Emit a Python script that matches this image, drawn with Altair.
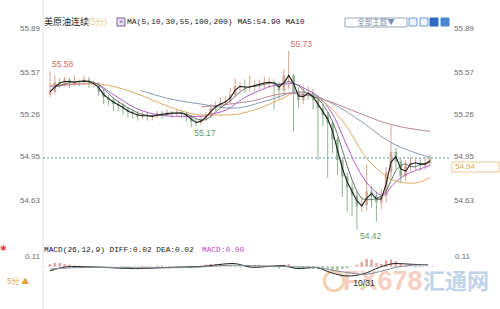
import altair as alt
import pandas as pd

# ---------------- data ----------------
closes = [55.43, 55.50, 55.49, 55.52, 55.49, 55.51, 55.50, 55.52, 55.49, 55.49,
          55.43, 55.39, 55.37, 55.34, 55.33, 55.30, 55.28, 55.27, 55.25, 55.26,
          55.25, 55.25, 55.27, 55.26, 55.28, 55.27, 55.28, 55.27, 55.25, 55.21,
          55.20, 55.23, 55.26, 55.31, 55.33, 55.35, 55.36, 55.41, 55.47, 55.47,
          55.46, 55.47, 55.48, 55.49, 55.50, 55.50, 55.49, 55.44, 55.55, 55.55,
          55.43, 55.37, 55.42, 55.42, 55.37, 55.31, 55.26, 55.20, 55.08, 54.93,
          54.81, 54.73, 54.67, 54.59, 54.60, 54.70, 54.67, 54.62, 54.67, 54.84,
          54.99, 54.92, 54.81, 54.89, 54.91, 54.91, 54.89, 54.91, 54.94]
highs = [55.58, 55.55, 55.53, 55.54, 55.53, 55.55, 55.52, 55.55, 55.54, 55.51,
         55.50, 55.45, 55.41, 55.39, 55.37, 55.35, 55.32, 55.30, 55.29, 55.28,
         55.28, 55.27, 55.29, 55.29, 55.30, 55.29, 55.30, 55.29, 55.28, 55.26,
         55.23, 55.25, 55.28, 55.34, 55.36, 55.39, 55.40, 55.46, 55.53, 55.50,
         55.52, 55.55, 55.51, 55.52, 55.54, 55.53, 55.52, 55.50, 55.60, 55.73,
         55.56, 55.46, 55.47, 55.47, 55.45, 55.40, 55.34, 55.28, 55.22, 55.10,
         54.95, 54.84, 54.77, 54.70, 54.66, 54.90, 54.74, 54.70, 54.72, 54.88,
         55.18, 55.02, 54.94, 54.93, 54.95, 54.95, 54.94, 54.95, 54.97]
lows = [55.39, 55.41, 55.46, 55.47, 55.46, 55.47, 55.47, 55.48, 55.46, 55.46,
        55.40, 55.34, 55.33, 55.29, 55.29, 55.26, 55.24, 55.23, 55.22, 55.23,
        55.22, 55.22, 55.24, 55.23, 55.25, 55.24, 55.25, 55.24, 55.21, 55.17,
        55.18, 55.19, 55.22, 55.24, 55.29, 55.31, 55.33, 55.34, 55.39, 55.43,
        55.42, 55.43, 55.44, 55.45, 55.46, 55.46, 55.30, 55.38, 55.41, 55.45,
        55.14, 55.31, 55.34, 55.37, 55.30, 54.93, 55.18, 54.80, 54.98, 54.82,
        54.66, 54.55, 54.52, 54.42, 54.55, 54.56, 54.58, 54.48, 54.57, 54.62,
        54.80, 54.86, 54.76, 54.78, 54.85, 54.86, 54.85, 54.86, 54.89]
first_open = 55.41

ma30_i = [0, 9, 13, 17.6, 21, 26, 31, 33.6, 36.4, 39.6, 43, 46.4, 49.6, 53, 55.6, 58.4,
          61, 63.6, 66.4, 68.4, 70.4, 72.4, 75.6, 78]
ma30_v = [55.47, 55.49, 55.41, 55.31, 55.27, 55.25, 55.25, 55.27, 55.30, 55.38, 55.44,
          55.48, 55.49, 55.44, 55.38, 55.24, 55.03, 54.84, 54.71, 54.67, 54.75, 54.81,
          54.86, 54.89]
ma55_i = [0, 9, 15, 19, 23, 27, 31, 36.4, 43, 47.6, 51, 55.6, 61, 64.4, 67, 69, 71.6, 74.4, 78]
ma55_v = [55.48, 55.49, 55.45, 55.40, 55.34, 55.29, 55.26, 55.26, 55.31, 55.38, 55.43,
          55.37, 55.17, 54.97, 54.87, 54.81, 54.77, 54.76, 54.80]
ma100_i = [18.6, 24.4, 31, 37.6, 45, 51, 57.6, 64.4, 69, 78]
ma100_v = [55.44, 55.38, 55.34, 55.31, 55.37, 55.43, 55.35, 55.20, 55.08, 54.95]
ma200_i = [31, 41, 49, 55.6, 63, 69, 78]
ma200_v = [55.32, 55.36, 55.42, 55.38, 55.28, 55.20, 55.14]

macd_i = [0, 4.4, 11, 17.6, 24.4, 31, 37.6, 41.6, 47.6, 51, 54.4, 57.6, 61, 64.4, 67.6, 71, 74.4, 77.6]
diff_v = [-0.05, 0.0, -0.01, -0.025, -0.01, 0.0, 0.035, -0.01, 0.01, -0.025, -0.01, -0.07,
          -0.11, -0.085, -0.01, 0.035, 0.025, 0.02]
dea_v = [-0.03, -0.015, -0.01, -0.015, -0.015, -0.005, 0.015, 0.01, 0.0, -0.005, -0.01,
         -0.04, -0.07, -0.09, -0.06, -0.01, 0.015, 0.02]
hist_v = [0.03, 0.04, 0.04, 0.03, 0.02, 0.01, 0.01, 0.0, -0.01, -0.01,
          -0.01, -0.01, -0.01, 0.0, 0.0, -0.01, -0.01, 0.0, 0.0, 0.01,
          0.01, 0.0, 0.01, 0.01, 0.0, 0.0, -0.01, -0.01, -0.01, -0.02,
          -0.01, 0.01, 0.02, 0.03, 0.03, 0.03, 0.02, 0.01, -0.01, -0.01,
          0.0, 0.01, 0.02, 0.02, 0.01, 0.0, -0.01, -0.02, 0.02, 0.03,
          -0.02, -0.03, -0.02, -0.02, -0.03, -0.03, -0.02, -0.03, -0.04, -0.04,
          -0.03, -0.02, 0.0, 0.02, 0.05, 0.09, 0.08, 0.04, 0.03, 0.07,
          0.08, 0.06, 0.03, 0.01, 0.0, -0.01, -0.01, 0.0, 0.0]

price_ticks = [55.89, 55.57, 55.26, 54.95, 54.63]
macd_ticks = [0.11]
last_level = 54.945
extremes_i = [0, 49, 29, 63]
extremes_p = [55.58, 55.73, 55.17, 54.42]
extremes_kind = ["hi", "hi", "lo", "lo"]

# ---------------- frames ----------------
n = len(closes)
opens = [first_open] + closes[:-1]
candles = pd.DataFrame({"i": list(range(n)), "open": opens, "close": closes,
                        "high": highs, "low": lows})
ma_rows = []
for name, xs, vs in [("MA30", ma30_i, ma30_v), ("MA55", ma55_i, ma55_v),
                     ("MA100", ma100_i, ma100_v), ("MA200", ma200_i, ma200_v)]:
    for a, b in zip(xs, vs):
        ma_rows.append({"i": a, "v": b, "ma": name})
ma_df = pd.DataFrame(ma_rows)
macd_df = pd.DataFrame({"i": macd_i * 2, "v": diff_v + dea_v,
                        "s": ["DIFF"] * len(macd_i) + ["DEA"] * len(macd_i)})
hist_df = pd.DataFrame({"i": list(range(n)), "h": hist_v})
ext_df = pd.DataFrame({"i": extremes_i, "p": extremes_p, "k": extremes_kind,
                       "t": [f"{v:.2f}" for v in extremes_p]})
ticks_df = pd.DataFrame({"v": price_ticks, "t": [f"{v:.2f}" for v in price_ticks]})
mticks_df = pd.DataFrame({"v": macd_ticks, "t": [f"{v:.2f}" for v in macd_ticks]})

XS = alt.Scale(domain=[0, 78], range=[45, 435], zero=False, nice=False)
PY = alt.Scale(domain=[54.63, 55.89], range=[201, 29], zero=False, nice=False)
MY = alt.Scale(domain=[-0.11, 0.11], range=[276, 257], zero=False, nice=False)

GRAY = "#6e6e6e"
UP = "#d9a590"
DOWN = "#93b394"


def txt(t, x, y, size=8.5, color="#222", font="Liberation Sans", align="left",
        weight="normal", baseline="middle", opacity=1.0):
    return alt.Chart(pd.DataFrame({"t": [t]})).mark_text(
        fontSize=size, color=color, font=font, align=align, fontWeight=weight,
        baseline=baseline, opacity=opacity
    ).encode(x=alt.value(x), y=alt.value(y), text="t:N")


def box(x1, x2, y1, y2, fill, stroke, sw=1.0):
    return alt.Chart(pd.DataFrame({"a": [0]})).mark_rect(
        fill=fill, stroke=stroke, strokeWidth=sw
    ).encode(x=alt.value(x1), x2=alt.value(x2), y=alt.value(y1), y2=alt.value(y2))


layers = []

# watermark
layers.append(alt.Chart(pd.DataFrame({"a": [0]})).mark_point(
    shape="circle", filled=False, stroke="#f3c9a0", strokeWidth=3, size=380, opacity=0.8
).encode(x=alt.value(334), y=alt.value(281)))
layers.append(txt("FX678", 343, 282, size=27, color="#f4cbbd", weight="bold", opacity=0.9))
layers.append(txt("汇通网", 423, 282, size=22, color="#bcd0ea",
                  font="Noto Sans CJK SC", weight="bold", opacity=0.9))

# left border
layers.append(alt.Chart(pd.DataFrame({"a": [0]})).mark_rule(color="#e4e4e4", strokeWidth=1).encode(
    x=alt.value(43), y=alt.value(0), y2=alt.value(309)))

# last price dashed line
layers.append(alt.Chart(pd.DataFrame({"v": [last_level]})).mark_rule(
    color="#4f9ea6", strokeWidth=1, strokeDash=[2, 2]
).encode(y=alt.Y("v:Q", scale=PY, axis=None), x=alt.value(43), x2=alt.value(450)))

# candles
cond = alt.condition("datum.close >= datum.open", alt.value(UP), alt.value(DOWN))
base = alt.Chart(candles).encode(x=alt.X("i:Q", scale=XS, axis=None), color=cond)
layers.append(base.mark_rule(strokeWidth=1).encode(
    y=alt.Y("low:Q", scale=PY, axis=None), y2="high:Q"))
layers.append(base.mark_bar(size=2.6).encode(
    y=alt.Y("open:Q", scale=PY, axis=None), y2="close:Q"))

# moving averages
layers.append(alt.Chart(ma_df).mark_line(strokeWidth=1, interpolate="monotone").encode(
    x=alt.X("i:Q", scale=XS, axis=None),
    y=alt.Y("v:Q", scale=PY, axis=None),
    color=alt.Color("ma:N", legend=None, scale=alt.Scale(
        domain=["MA30", "MA55", "MA100", "MA200"],
        range=["#b35ccc", "#e2aa66", "#8c9db0", "#b98a93"]))))
layers.append(alt.Chart(candles).transform_window(
    m10="mean(close)", frame=[-3, 0], sort=[alt.SortField("i")]
).mark_line(color="#596b62", strokeWidth=0.9).encode(
    x=alt.X("i:Q", scale=XS, axis=None), y=alt.Y("m10:Q", scale=PY, axis=None)))
layers.append(alt.Chart(candles).transform_window(
    m5="mean(close)", frame=[-1, 0], sort=[alt.SortField("i")]
).mark_line(color="#1e1e1e", strokeWidth=1.1).encode(
    x=alt.X("i:Q", scale=XS, axis=None), y=alt.Y("m5:Q", scale=PY, axis=None)))

# extreme labels
layers.append(alt.Chart(ext_df).transform_filter("datum.k == 'hi'").mark_text(
    fontSize=8.5, font="Liberation Sans", color="#d4706a", align="left", baseline="bottom", dx=2, dy=-2
).encode(x=alt.X("i:Q", scale=XS, axis=None), y=alt.Y("p:Q", scale=PY, axis=None), text="t:N"))
layers.append(alt.Chart(ext_df).transform_filter("datum.k == 'lo'").mark_text(
    fontSize=8.5, font="Liberation Sans", color="#5f9f5f", align="left", baseline="top", dx=3, dy=2
).encode(x=alt.X("i:Q", scale=XS, axis=None), y=alt.Y("p:Q", scale=PY, axis=None), text="t:N"))

# price tick labels
layers.append(alt.Chart(ticks_df).mark_text(
    fontSize=8, font="Liberation Sans", color=GRAY, align="right", baseline="middle"
).encode(x=alt.value(40), y=alt.Y("v:Q", scale=PY, axis=None), text="t:N"))
layers.append(alt.Chart(ticks_df).mark_text(
    fontSize=8, font="Liberation Sans", color=GRAY, align="left", baseline="middle"
).encode(x=alt.value(454), y=alt.Y("v:Q", scale=PY, axis=None), text="t:N"))

# last price box
layers.append(box(452, 499, 162, 172, "#ffffff", "#f0c890"))
layers.append(txt("54.94", 455, 167, size=8, color="#e7a24a"))

# MACD panel
layers.append(alt.Chart(pd.DataFrame({"v": [0.0]})).mark_rule(
    color="#bbbbbb", strokeWidth=0.8, strokeDash=[1, 2]
).encode(y=alt.Y("v:Q", scale=MY, axis=None), x=alt.value(45), x2=alt.value(435)))
layers.append(alt.Chart(hist_df).mark_bar(size=2.4).encode(
    x=alt.X("i:Q", scale=XS, axis=None),
    y=alt.Y("h:Q", scale=MY, axis=None), y2=alt.datum(0),
    color=alt.condition("datum.h >= 0", alt.value("#e6a0a0"), alt.value("#9cc49c"))))
layers.append(alt.Chart(macd_df).mark_line(strokeWidth=1, interpolate="monotone").encode(
    x=alt.X("i:Q", scale=XS, axis=None),
    y=alt.Y("v:Q", scale=MY, axis=None),
    color=alt.Color("s:N", legend=None, scale=alt.Scale(
        domain=["DIFF", "DEA"], range=["#222222", "#7f8b98"]))))
layers.append(alt.Chart(mticks_df).mark_text(
    fontSize=8, font="Liberation Sans", color=GRAY, align="right", baseline="middle"
).encode(x=alt.value(40), y=alt.Y("v:Q", scale=MY, axis=None), text="t:N"))
layers.append(alt.Chart(mticks_df).mark_text(
    fontSize=8, font="Liberation Sans", color=GRAY, align="left", baseline="middle"
).encode(x=alt.value(455), y=alt.Y("v:Q", scale=MY, axis=None), text="t:N"))

# header texts
layers.append(txt("美原油连续", 44, 22, size=9, font="Noto Sans CJK SC", color="#222"))
layers.append(txt("(5分)", 88, 22, size=8.5, font="Noto Sans CJK SC", color="#e9c97f"))
layers.append(box(117, 125, 18, 26, "#ece4f4", "#7b62a6"))
layers.append(txt("×", 121, 22, size=8, color="#7b62a6", align="center"))
layers.append(txt("MA(5,10,30,55,100,200) MA5:54.90 MA10", 127, 22, size=8,
                  font="Liberation Mono", color="#222"))
layers.append(box(345, 407, 18, 27, "#ffffff", "#9aa7b5"))
layers.append(txt("全部主题▼", 376, 22.5, size=7.5, font="Noto Sans CJK SC",
                  color="#7b8fae", align="center"))
layers.append(box(409, 417, 18, 26, "#eef4fb", "#6f9bd6"))
layers.append(box(420, 428, 18, 26, "#eef4fb", "#6f9bd6"))
layers.append(box(430, 438, 18, 26, "#2f6bc4", "#2f6bc4"))
layers.append(box(441, 449, 18, 26, "#4a86d6", "#4a86d6"))

# MACD header
layers.append(txt("MACD(26,12,9) DIFF:0.02 DEA:0.02", 44, 250, size=7.8,
                  font="Liberation Mono", color="#222"))
layers.append(txt("MACD:0.00", 202, 250, size=7.8, font="Liberation Mono", color="#c64ac6"))
layers.append(txt("✱", 0, 249, size=8, font="DejaVu Sans", color="#e04848"))

# bottom
layers.append(txt("5分 ▲", 7, 282, size=8, font="Noto Sans CJK SC", color="#e3a23a"))
layers.append(txt("10/31", 364, 283, size=8.5, color="#333333", align="center"))

chart = alt.layer(*layers).resolve_scale(y="independent", color="independent").properties(
    width=500, height=309, autosize=alt.AutoSizeParams(type="none"),
    padding={"left": 0, "top": 0, "right": 0, "bottom": 0}, background="white"
).configure_view(strokeWidth=0)

chart.save("out.html", embed_options={"renderer": "svg", "actions": False})
